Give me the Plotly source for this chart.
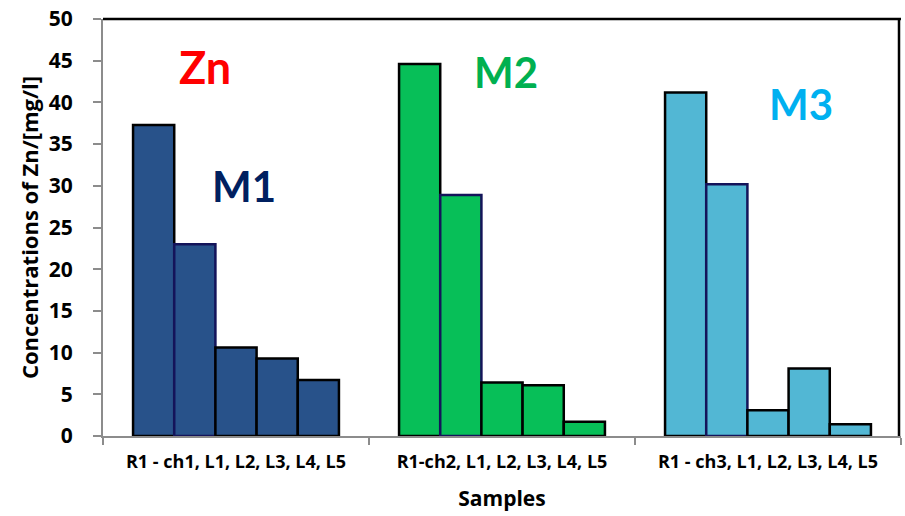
import plotly.graph_objects as go

categories = ["R1 - ch1, L1, L2, L3, L4, L5", "R1-ch2, L1, L2, L3, L4, L5", "R1 - ch3, L1, L2, L3, L4, L5"]
# bar values per position within each group (R1-ch, then following L samples)
m1_values = [37.3, 23.0, 10.6, 9.3, 6.7]
m2_values = [44.6, 28.9, 6.4, 6.1, 1.7]
m3_values = [41.2, 30.2, 3.1, 8.1, 1.4]
group_colors = ["#28528A", "#07BF58", "#52B7D4"]
y_ticks = [0, 5, 10, 15, 20, 25, 30, 35, 40, 45, 50]

FONT = "Open Sans"
ANN_FONT = "Lato"

fig = go.Figure()
for j in range(5):
    vals = [m1_values[j], m2_values[j], m3_values[j]]
    fig.add_trace(go.Bar(
        x=categories, y=vals,
        marker=dict(color=group_colors,
                    line=dict(color="#14145A" if j == 1 else "#000000", width=2.5)),
        showlegend=False, hoverinfo="y"))

fig.update_layout(
    width=905, height=516,
    margin=dict(l=103, r=4, t=15, b=80),
    paper_bgcolor="white", plot_bgcolor="white",
    barmode="group", bargap=0.226, bargroupgap=0,
    font=dict(family=FONT, color="black"),
    xaxis=dict(
        type="category", showgrid=False, showline=True, linecolor="#8C8C8C", linewidth=2,
        ticks="outside", ticklen=7, tickcolor="#8C8C8C", tickwidth=1.5, tickson="boundaries",
        tickfont=dict(family=FONT, size=18, color="black", weight="bold"),
        ticklabelstandoff=8,
        title=dict(text="<b>Samples</b>", font=dict(family=FONT, size=21, color="black"), standoff=20),
    ),
    yaxis=dict(
        range=[0, 50], tickvals=y_ticks, showgrid=False, zeroline=False,
        showline=True, linecolor="#8C8C8C", linewidth=2,
        ticks="outside", ticklen=8, tickcolor="#8C8C8C", tickwidth=1.5,
        tickfont=dict(family=FONT, size=21, color="black", weight="bold"),
        ticklabelstandoff=16,
        title=dict(text="<b>Concentrations of Zn/[mg/l]</b>", font=dict(family=FONT, size=22, color="black"), standoff=4),
    ),
    shapes=[
        dict(type="line", xref="paper", yref="paper", x0=0, x1=1, y0=1, y1=1,
             line=dict(color="black", width=2.5)),
        dict(type="line", xref="paper", yref="paper", x0=0.9975, x1=0.9975, y0=0, y1=1,
             line=dict(color="black", width=2.5)),
    ],
    annotations=[
        dict(text="<b>Zn</b>", xref="paper", yref="y", x=0.128, y=44.2, showarrow=False,
             xanchor="center", yanchor="middle",
             font=dict(family=ANN_FONT, size=45, color="#FF0000")),
        dict(text="<b>M1</b>", xref="paper", yref="y", x=0.177, y=30.0, showarrow=False,
             xanchor="center", yanchor="middle",
             font=dict(family=ANN_FONT, size=42, color="#002060")),
        dict(text="<b>M2</b>", xref="paper", yref="y", x=0.505, y=43.6, showarrow=False,
             xanchor="center", yanchor="middle",
             font=dict(family=ANN_FONT, size=42, color="#00B050")),
        dict(text="<b>M3</b>", xref="paper", yref="y", x=0.875, y=39.8, showarrow=False,
             xanchor="center", yanchor="middle",
             font=dict(family=ANN_FONT, size=42, color="#00B0F0")),
    ],
)

fig.write_html("out.html")
